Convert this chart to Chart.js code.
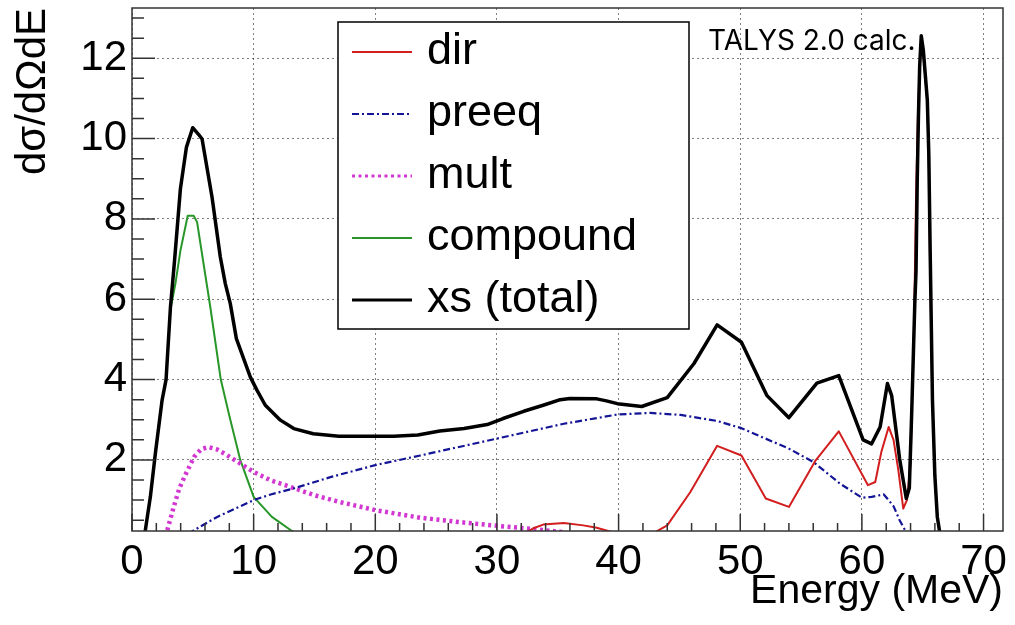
<!DOCTYPE html>
<html>
<head>
<meta charset="utf-8">
<script src="https://cdn.jsdelivr.net/npm/chart.js@4.4.1/dist/chart.umd.min.js"></script>
<style>
  html, body { margin: 0; padding: 0; background: #fff; }
  #wrap { width: 1015px; height: 625px; }
</style>
</head>
<body>
<div id="wrap"><canvas id="chart" width="1015" height="625"></canvas></div>
<script>
// TALYS 2.0 components, energy in MeV, dsigma/dOmega dE
const totalE = [1.05, 1.18, 1.51, 1.92, 2.47, 2.8, 3.16, 3.5, 3.98, 4.47, 4.99, 5.48, 5.76, 6.58, 7.26, 7.67, 8.08, 8.58, 9.73, 10.28,
  10.96, 12.2, 13.3, 14.9, 17.0, 20.0, 21.5, 23.5, 25.3, 27.3, 29.2, 30.5, 32.2, 33.8, 35.2, 36.0, 38.2, 39.0, 39.9, 41.9,
  44.0, 46.2, 48.1, 50.1, 52.2, 54.0, 56.3, 58.1, 60.1, 60.8, 61.5, 62.1, 62.45, 63.1, 63.65, 63.9, 64.1, 64.35, 64.45, 64.55,
  64.65, 64.75, 64.88, 65.05, 65.38, 65.5, 65.62, 65.8, 66.0, 66.2, 66.45]
const totalXS = [0.15, 0.42, 1.08, 2.16, 3.48, 4.0, 5.8, 6.97, 8.75, 9.78, 10.27, 10.1, 9.99, 8.54, 7.05, 6.39, 5.89, 5.02, 4.06, 3.73,
  3.36, 2.99, 2.78, 2.65, 2.59, 2.59, 2.59, 2.62, 2.72, 2.78, 2.88, 3.03, 3.21, 3.36, 3.5, 3.53, 3.52, 3.47, 3.4, 3.33,
  3.55, 4.4, 5.36, 4.93, 3.6, 3.05, 3.91, 4.1, 2.5, 2.4, 2.82, 3.9, 3.6, 2.03, 1.04, 1.3, 3.23, 5.9, 6.7, 8.96,
  10.57, 11.8, 12.56, 12.2, 10.95, 9.62, 7.05, 3.5, 1.6, 0.58, 0.1]

const dirE = [32.0, 33.0, 33.8, 35.5, 37.1, 38.2, 39.5, 40.5, 42.2, 43.0, 44.0, 45.9, 48.1, 50.1, 52.1, 54.0, 56.2, 58.1, 60.5, 61.1,
  61.6, 62.2, 62.6, 63.0, 63.4, 63.7, 64.0, 64.3, 64.45, 64.6, 64.75, 64.87, 65.05, 65.38, 65.5, 65.6, 65.8, 66.0, 66.2, 66.4]
const dirXS = [0.1, 0.3, 0.39, 0.43, 0.37, 0.31, 0.2, 0.12, 0.12, 0.2, 0.37, 1.2, 2.35, 2.11, 1.04, 0.83, 1.99, 2.71, 1.37, 1.45,
  2.2, 2.82, 2.5, 1.74, 0.79, 1.0, 1.91, 5.5, 8.5, 10.5, 11.8, 12.5, 12.1, 10.9, 9.6, 7.0, 3.5, 1.6, 0.6, 0.1]

const preeqE = [4.6, 7.0, 10.0, 11.4, 13.3, 16.3, 20.0, 23.7, 30.0, 35.5, 39.9, 42.6, 45.1, 48.1, 50.1, 54.0, 56.0, 58.2, 60.0, 60.8,
  61.8, 62.6, 63.1, 63.55, 63.75]
const preeqXS = [0.16, 0.58, 1.0, 1.14, 1.29, 1.57, 1.87, 2.11, 2.53, 2.9, 3.13, 3.17, 3.12, 2.97, 2.79, 2.28, 1.95, 1.41, 1.06, 1.08,
  1.14, 0.85, 0.5, 0.25, 0.1]

const multE = [2.7, 2.9, 3.43, 3.9, 4.5, 5.1, 5.7, 6.3, 7.0, 7.8, 8.9, 10.0, 11.4, 13.0, 15.0, 17.1, 20.0, 23.7, 27.0, 30.0, 33.3, 35.5]
const multXS = [0.1, 0.25, 0.83, 1.3, 1.7, 2.07, 2.27, 2.32, 2.26, 2.12, 1.91, 1.7, 1.49, 1.33, 1.12, 0.95, 0.75, 0.56, 0.45, 0.36, 0.27, 0.2]

const compE = [1.05, 1.18, 1.51, 1.92, 2.47, 2.8, 3.16, 3.57, 3.98, 4.58, 5.07, 5.35, 6.44, 7.3, 8.0, 8.9, 10.0, 11.5, 13.15, 13.5]
const compXS = [0.15, 0.42, 1.08, 2.16, 3.48, 4.0, 5.75, 6.39, 7.21, 8.08, 8.08, 7.92, 5.8, 4.0, 3.1, 2.0, 1.08, 0.58, 0.23, 0.18]

const xTicks = [0, 10, 20, 30, 40, 50, 60, 70]
const yTicks = [2, 4, 6, 8, 10, 12]

const toPoints = (xs, ys) => xs.map((x, i) => ({ x, y: ys[i] }))

// ROOT style: frame, ticks pointing inwards, legend box and label
const rootFrame = {
  id: 'rootFrame',
  afterDatasetsDraw(chart) {
    const { ctx, chartArea: a, scales: { x, y } } = chart
    ctx.save()
    ctx.strokeStyle = '#333'
    ctx.lineWidth = 1.5
    ctx.beginPath()
    for (let v = 0; v <= x.max; v += 2) {
      const px = x.getPixelForValue(v)
      const len = v % 10 === 0 ? 17 : 8
      ctx.moveTo(px, a.bottom)
      ctx.lineTo(px, a.bottom - len)
    }
    for (let v = 0.5; v <= y.max; v += 0.5) {
      if (v < y.min) continue
      const py = y.getPixelForValue(v)
      const len = v % 2 === 0 ? 23 : 12
      ctx.moveTo(a.left, py)
      ctx.lineTo(a.left + len, py)
    }
    ctx.stroke()
    ctx.strokeRect(a.left, a.top, a.width, a.height)

    // legend
    ctx.fillStyle = '#fff'
    ctx.fillRect(338, 22, 351, 307)
    ctx.strokeStyle = '#000'
    ctx.lineWidth = 1.5
    ctx.strokeRect(338, 22, 351, 307)
    ctx.font = '45px "Liberation Sans", Arial, sans-serif'
    ctx.textBaseline = 'middle'
    chart.data.datasets.forEach((ds, i) => {
      const ly = 52 + i * 62
      ctx.strokeStyle = ds.borderColor
      ctx.lineWidth = Math.min(ds.borderWidth, 3)
      ctx.setLineDash(ds.borderDash || [])
      ctx.beginPath()
      ctx.moveTo(352, ly)
      ctx.lineTo(412, ly)
      ctx.stroke()
      ctx.setLineDash([])
      ctx.fillStyle = '#000'
      ctx.fillText(ds.label, 427, ly)
    })

    ctx.font = '28px Inter, "Open Sans", sans-serif'
    ctx.textBaseline = 'alphabetic'
    ctx.fillText('TALYS 2.0 calc.', 708, 50)
    ctx.restore()
  }
}

Chart.defaults.font.family = '"Liberation Sans", Arial, sans-serif'
Chart.defaults.color = '#000'

const chart = new Chart(document.getElementById('chart'), {
  type: 'line',
  data: {
    datasets: [
      { label: 'dir', data: toPoints(dirE, dirXS), borderColor: 'rgb(210, 30, 30)', borderWidth: 2, order: 1 },
      { label: 'preeq', data: toPoints(preeqE, preeqXS), borderColor: 'rgb(20, 20, 150)', borderWidth: 2.2, borderDash: [7, 3, 2, 3], order: 2 },
      { label: 'mult', data: toPoints(multE, multXS), borderColor: 'rgb(210, 55, 210)', borderWidth: 4.5, borderDash: [3, 3.5], order: 3 },
      { label: 'compound', data: toPoints(compE, compXS), borderColor: 'rgb(40, 150, 40)', borderWidth: 2, order: 4 },
      { label: 'xs (total)', data: toPoints(totalE, totalXS), borderColor: '#000', borderWidth: 3.5, order: 0 }
    ]
  },
  options: {
    responsive: false,
    animation: false,
    events: [],
    layout: { padding: { top: 8, right: 12, left: 0, bottom: 0 } },
    elements: {
      point: { radius: 0 },
      line: { tension: 0, fill: false, borderJoinStyle: 'round' }
    },
    plugins: {
      legend: { display: false },
      tooltip: { enabled: false }
    },
    scales: {
      x: {
        type: 'linear',
        min: 0,
        max: 71.6,
        afterBuildTicks: (scale) => { scale.ticks = xTicks.map(v => ({ value: v })) },
        afterFit: (scale) => { scale.height = 94; scale.paddingLeft = 0; scale.paddingRight = 0 },
        ticks: { font: { size: 42 }, padding: 6, maxRotation: 0, autoSkip: false, includeBounds: false },
        grid: { color: 'rgba(0,0,0,0.5)', lineWidth: 1, drawTicks: false },
        border: { display: false, dash: [2, 3] },
        title: { display: true, text: 'Energy (MeV)', align: 'end', font: { size: 41 }, padding: { top: 0, bottom: 9 } }
      },
      y: {
        min: 0.23,
        max: 13.25,
        afterBuildTicks: (scale) => { scale.ticks = yTicks.map(v => ({ value: v })) },
        afterFit: (scale) => { scale.width = 132; scale.paddingTop = 0; scale.paddingBottom = 0 },
        ticks: { font: { size: 42 }, padding: 5, includeBounds: false },
        grid: { color: 'rgba(0,0,0,0.5)', lineWidth: 1, drawTicks: false },
        border: { display: false, dash: [2, 3] },
        title: { display: true, text: 'dσ/dΩdE', align: 'end', font: { size: 42 }, padding: { top: 8, bottom: 0 } }
      }
    }
  },
  plugins: [rootFrame]
})
</script>
</body>
</html>
